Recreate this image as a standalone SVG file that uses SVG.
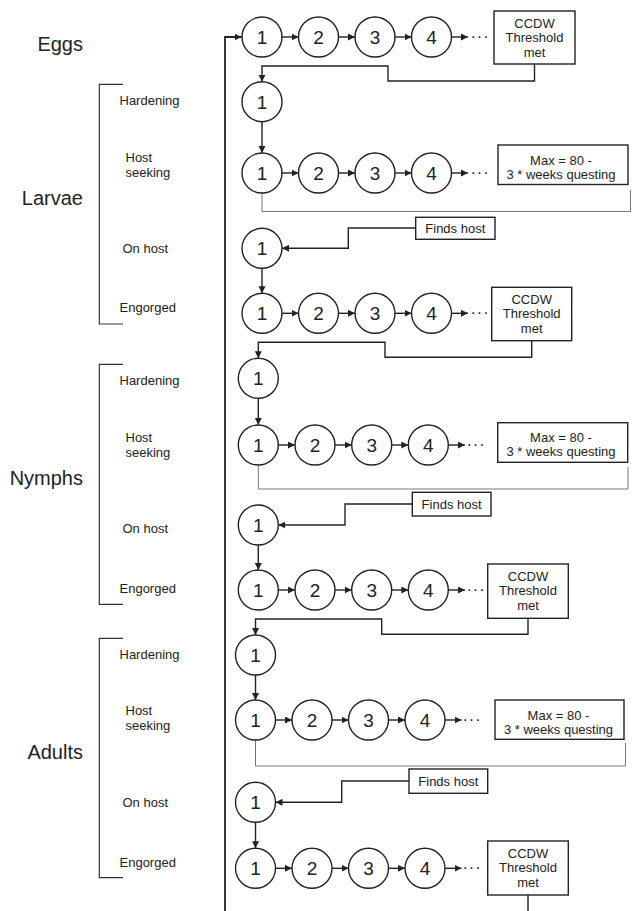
<svg xmlns="http://www.w3.org/2000/svg" width="634" height="911" viewBox="0 0 634 911">
<defs>
<marker id="ah" markerUnits="userSpaceOnUse" markerWidth="8" markerHeight="8" refX="7" refY="3.5" orient="auto"><path d="M0,0 L7,3.5 L0,7 z" fill="#222"/></marker>
<style>
.c{fill:#fff;stroke:#222;stroke-width:1.4}
.n{font-family:"Liberation Sans",Arial,sans-serif;font-size:19px;text-anchor:middle;fill:#222}
.b{fill:#fff;stroke:#222;stroke-width:1.4}
.t{font-family:"Liberation Sans",Arial,sans-serif;font-size:13px;text-anchor:middle;fill:#222}
.l{font-family:"Liberation Sans",Arial,sans-serif;font-size:13px;fill:#222}
.L{font-family:"Liberation Sans",Arial,sans-serif;font-size:20px;text-anchor:end;fill:#222}
.d{font-family:"Liberation Sans",Arial,sans-serif;font-size:16px;text-anchor:middle;fill:#222;letter-spacing:1px}
.a{fill:none;stroke:#222;stroke-width:1.4;marker-end:url(#ah)}
.w{fill:none;stroke:#222;stroke-width:1.4}
.g{fill:none;stroke:#777;stroke-width:1}
.k{fill:none;stroke:#333;stroke-width:1.2}
</style>
</defs>

<g id="labels">
<text class="L" x="83" y="51">Eggs</text>
<path class="k" d="M123,84.3 H99.3 V324 H123"/>
<text class="L" x="83" y="205">Larvae</text>
<text class="l" x="119.5" y="105">Hardening</text>
<text class="l" x="125.5" y="161.7">Host</text>
<text class="l" x="125.5" y="176.7">seeking</text>
<text class="l" x="122.5" y="252.7">On host</text>
<text class="l" x="119.5" y="312.3">Engorged</text>
<path class="k" d="M123,364.3 H99.3 V604.3 H123"/>
<text class="L" x="83" y="485">Nymphs</text>
<text class="l" x="119.5" y="385">Hardening</text>
<text class="l" x="125.5" y="441.7">Host</text>
<text class="l" x="125.5" y="456.7">seeking</text>
<text class="l" x="122.5" y="532.7">On host</text>
<text class="l" x="119.5" y="592.7">Engorged</text>
<path class="k" d="M123,638.3 H99.3 V877.7 H123"/>
<text class="L" x="83" y="759">Adults</text>
<text class="l" x="119.5" y="659">Hardening</text>
<text class="l" x="125.5" y="715">Host</text>
<text class="l" x="125.5" y="730">seeking</text>
<text class="l" x="122.5" y="806.7">On host</text>
<text class="l" x="119.5" y="866.7">Engorged</text>
</g>

<g id="connectors">
<path class="a" d="M225,911 V37 H241.5" style="stroke-width:1.8"/>
<!-- eggs -->
<path class="a" d="M282,37 H298.5"/><path class="a" d="M338.5,37 H355"/><path class="a" d="M395,37 H411.5"/><path class="a" d="M451.5,37 H468"/>
<path class="a" d="M534.5,64 V81 H388 V66 H262 V81.7"/>
<!-- larvae -->
<path class="a" d="M262,121.7 V153"/>
<path class="a" d="M282,173 H298.5"/><path class="a" d="M338.5,173 H355"/><path class="a" d="M395,173 H411.5"/><path class="a" d="M451.5,173 H468"/>
<path class="g" d="M262,193 V211.5 H630.5 V190"/>
<path class="a" d="M415.7,228 H348.3 V248.3 H282"/>
<path class="a" d="M262,268.3 V293.3"/>
<path class="a" d="M282,313.3 H298.5"/><path class="a" d="M338.5,313.3 H355"/><path class="a" d="M395,313.3 H411.5"/><path class="a" d="M451.5,313.3 H468"/>
<path class="a" d="M531.7,340.7 V357.3 H385 V342.3 H258.3 V358.3"/>
<!-- nymphs -->
<path class="a" d="M258.3,398.3 V425"/>
<path class="a" d="M278.3,445 H295"/><path class="a" d="M335,445 H351.7"/><path class="a" d="M391.7,445 H408.3"/><path class="a" d="M448.3,445 H465"/>
<path class="g" d="M258.3,465 V489 H628 V467"/>
<path class="a" d="M412.3,504 H345 V525 H278.3"/>
<path class="a" d="M258.3,545 V570"/>
<path class="a" d="M278.3,590 H295"/><path class="a" d="M335,590 H351.7"/><path class="a" d="M391.7,590 H408.3"/><path class="a" d="M448.3,590 H465"/>
<path class="a" d="M528,618.3 V634.3 H381.7 V619 H255.5 V635"/>
<!-- adults -->
<path class="a" d="M255.5,675 V700"/>
<path class="a" d="M275.5,720 H292"/><path class="a" d="M332,720 H348.5"/><path class="a" d="M388.5,720 H405"/><path class="a" d="M445,720 H461.5"/>
<path class="g" d="M255.5,740 V766 H625.5 V743"/>
<path class="a" d="M409,781 H341.7 V802.3 H275.5"/>
<path class="a" d="M255.5,822.3 V848.3"/>
<path class="a" d="M275.5,868.3 H292"/><path class="a" d="M332,868.3 H348.5"/><path class="a" d="M388.5,868.3 H405"/><path class="a" d="M445,868.3 H461.5"/>
<path class="w" d="M528,895 V911"/>
</g>

<!-- dots -->
<g id="dots">
<text class="d" x="480" y="42">···</text>
<text class="d" x="480" y="178">···</text>
<text class="d" x="480" y="318.3">···</text>
<text class="d" x="476" y="450">···</text>
<text class="d" x="476" y="595">···</text>
<text class="d" x="472" y="725">···</text>
<text class="d" x="472" y="873.3">···</text>
</g>

<!-- Eggs -->
<g id="egg1"><circle class="c" cx="262" cy="37" r="20"/><text class="n" x="262" y="43.8">1</text></g>
<g id="egg2"><circle class="c" cx="318.5" cy="37" r="20"/><text class="n" x="318.5" y="43.8">2</text></g>
<g id="egg3"><circle class="c" cx="375" cy="37" r="20"/><text class="n" x="375" y="43.8">3</text></g>
<g id="egg4"><circle class="c" cx="431.5" cy="37" r="20"/><text class="n" x="431.5" y="43.8">4</text></g>
<g id="egg-ccdw"><rect class="b" x="494" y="11" width="81" height="53"/><text class="t" x="534.5" y="27.5">CCDW</text><text class="t" x="534.5" y="42">Threshold</text><text class="t" x="534.5" y="57">met</text></g>

<!-- Larvae -->
<g id="lar-hard1"><circle class="c" cx="262" cy="101.7" r="20"/><text class="n" x="262" y="108.5">1</text></g>
<g id="lar-seek1"><circle class="c" cx="262" cy="173" r="20"/><text class="n" x="262" y="179.8">1</text></g>
<g id="lar-seek2"><circle class="c" cx="318.5" cy="173" r="20"/><text class="n" x="318.5" y="179.8">2</text></g>
<g id="lar-seek3"><circle class="c" cx="375" cy="173" r="20"/><text class="n" x="375" y="179.8">3</text></g>
<g id="lar-seek4"><circle class="c" cx="431.5" cy="173" r="20"/><text class="n" x="431.5" y="179.8">4</text></g>
<g id="lar-max"><rect class="b" x="498" y="145" width="130" height="39.5"/><text class="t" x="561" y="164.5">Max = 80 -</text><text class="t" x="561" y="178.5">3 * weeks questing</text></g>
<g id="lar-finds"><rect class="b" x="415.7" y="217.3" width="79.3" height="22"/><text class="t" x="455.3" y="233">Finds host</text></g>
<g id="lar-host1"><circle class="c" cx="262" cy="248.3" r="20"/><text class="n" x="262" y="255.1">1</text></g>
<g id="lar-eng1"><circle class="c" cx="262" cy="313.3" r="20"/><text class="n" x="262" y="320.1">1</text></g>
<g id="lar-eng2"><circle class="c" cx="318.5" cy="313.3" r="20"/><text class="n" x="318.5" y="320.1">2</text></g>
<g id="lar-eng3"><circle class="c" cx="375" cy="313.3" r="20"/><text class="n" x="375" y="320.1">3</text></g>
<g id="lar-eng4"><circle class="c" cx="431.5" cy="313.3" r="20"/><text class="n" x="431.5" y="320.1">4</text></g>
<g id="lar-ccdw"><rect class="b" x="491.7" y="287.3" width="80" height="53.4"/><text class="t" x="531.7" y="303.8">CCDW</text><text class="t" x="531.7" y="318.3">Threshold</text><text class="t" x="531.7" y="333.3">met</text></g>

<!-- Nymphs -->
<g id="nym-hard1"><circle class="c" cx="258.3" cy="378.3" r="20"/><text class="n" x="258.3" y="385.1">1</text></g>
<g id="nym-seek1"><circle class="c" cx="258.3" cy="445" r="20"/><text class="n" x="258.3" y="451.8">1</text></g>
<g id="nym-seek2"><circle class="c" cx="315" cy="445" r="20"/><text class="n" x="315" y="451.8">2</text></g>
<g id="nym-seek3"><circle class="c" cx="371.7" cy="445" r="20"/><text class="n" x="371.7" y="451.8">3</text></g>
<g id="nym-seek4"><circle class="c" cx="428.3" cy="445" r="20"/><text class="n" x="428.3" y="451.8">4</text></g>
<g id="nym-max"><rect class="b" x="497.7" y="422.7" width="130" height="39.6"/><text class="t" x="561" y="442">Max = 80 -</text><text class="t" x="561" y="456">3 * weeks questing</text></g>
<g id="nym-finds"><rect class="b" x="412.3" y="492.3" width="78.7" height="23.7"/><text class="t" x="451.6" y="508.8">Finds host</text></g>
<g id="nym-host1"><circle class="c" cx="258.3" cy="525" r="20"/><text class="n" x="258.3" y="531.8">1</text></g>
<g id="nym-eng1"><circle class="c" cx="258.3" cy="590" r="20"/><text class="n" x="258.3" y="596.8">1</text></g>
<g id="nym-eng2"><circle class="c" cx="315" cy="590" r="20"/><text class="n" x="315" y="596.8">2</text></g>
<g id="nym-eng3"><circle class="c" cx="371.7" cy="590" r="20"/><text class="n" x="371.7" y="596.8">3</text></g>
<g id="nym-eng4"><circle class="c" cx="428.3" cy="590" r="20"/><text class="n" x="428.3" y="596.8">4</text></g>
<g id="nym-ccdw"><rect class="b" x="487.7" y="564" width="80.6" height="54.3"/><text class="t" x="528" y="580.5">CCDW</text><text class="t" x="528" y="595">Threshold</text><text class="t" x="528" y="610">met</text></g>

<!-- Adults -->
<g id="adu-hard1"><circle class="c" cx="255.5" cy="655" r="20"/><text class="n" x="255.5" y="661.8">1</text></g>
<g id="adu-seek1"><circle class="c" cx="255.5" cy="720" r="20"/><text class="n" x="255.5" y="726.8">1</text></g>
<g id="adu-seek2"><circle class="c" cx="312" cy="720" r="20"/><text class="n" x="312" y="726.8">2</text></g>
<g id="adu-seek3"><circle class="c" cx="368.5" cy="720" r="20"/><text class="n" x="368.5" y="726.8">3</text></g>
<g id="adu-seek4"><circle class="c" cx="425" cy="720" r="20"/><text class="n" x="425" y="726.8">4</text></g>
<g id="adu-max"><rect class="b" x="495" y="700" width="129" height="39.3"/><text class="t" x="558.5" y="719.5">Max = 80 -</text><text class="t" x="558.5" y="733.5">3 * weeks questing</text></g>
<g id="adu-finds"><rect class="b" x="409" y="769" width="78.7" height="24.3"/><text class="t" x="448.3" y="785.8">Finds host</text></g>
<g id="adu-host1"><circle class="c" cx="255.5" cy="802.3" r="20"/><text class="n" x="255.5" y="809.1">1</text></g>
<g id="adu-eng1"><circle class="c" cx="255.5" cy="868.3" r="20"/><text class="n" x="255.5" y="875.1">1</text></g>
<g id="adu-eng2"><circle class="c" cx="312" cy="868.3" r="20"/><text class="n" x="312" y="875.1">2</text></g>
<g id="adu-eng3"><circle class="c" cx="368.5" cy="868.3" r="20"/><text class="n" x="368.5" y="875.1">3</text></g>
<g id="adu-eng4"><circle class="c" cx="425" cy="868.3" r="20"/><text class="n" x="425" y="875.1">4</text></g>
<g id="adu-ccdw"><rect class="b" x="487.7" y="841" width="80.6" height="54"/><text class="t" x="528" y="857.5">CCDW</text><text class="t" x="528" y="872">Threshold</text><text class="t" x="528" y="887">met</text></g>
</svg>
